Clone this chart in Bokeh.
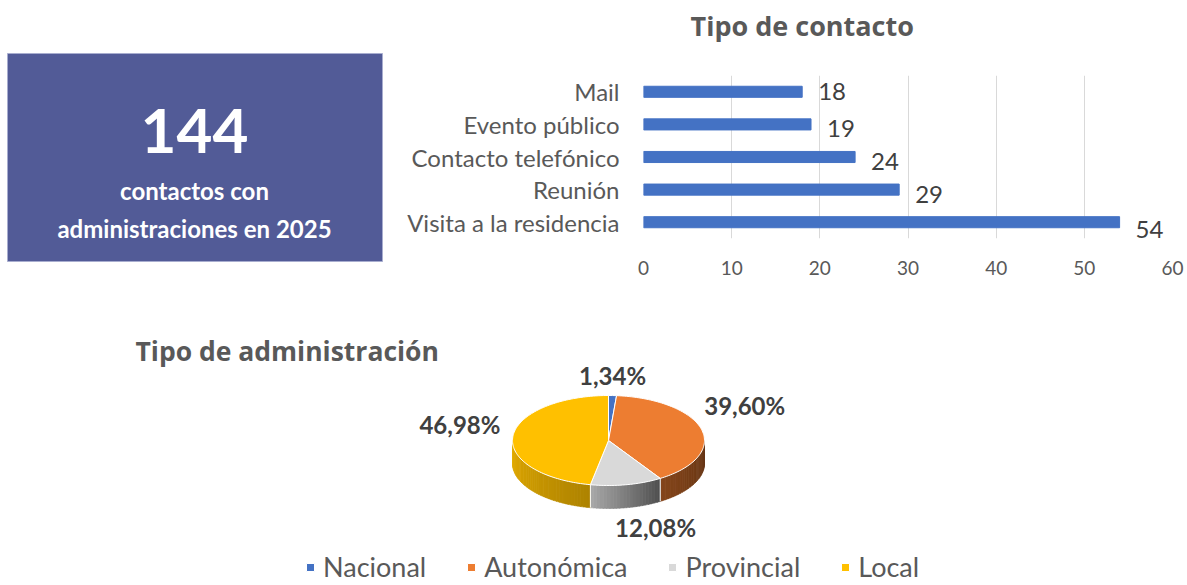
import numpy as np
from bokeh.plotting import figure
from bokeh.models import Range1d, FactorRange, FixedTicker, Legend, LegendItem
from bokeh.layouts import column, row
from bokeh.core.properties import value
from bokeh.embed import file_html
from bokeh.resources import INLINE

# ---------------- data ----------------
total_contacts = 144
box_caption = ["contactos con", "administraciones en 2025"]

contact_title = "Tipo de contacto"
contact_types = ["Visita a la residencia", "Reunión", "Contacto telefónico", "Evento público", "Mail"]
contact_counts = [54, 29, 24, 19, 18]
x_ticks = [0, 10, 20, 30, 40, 50, 60]

admin_title = "Tipo de administración"
admin_types = ["Nacional", "Autonómica", "Provincial", "Local"]
admin_pcts = [1.34, 39.60, 12.08, 46.98]
admin_labels = ["1,34%", "39,60%", "12,08%", "46,98%"]

# ---------------- styles ----------------
admin_colors = ["#4472C4", "#ED7D31", "#D9D9D9", "#FFC000"]
side_shade = [(0.5, 0.5), (0.42, 0.56), (0.36, 0.78), (0.68, 0.9)]  # (right, left)
label_nudge = [(0, -20), (43, -24), (29, 20), (-53, -12)]
value_label_dy = [7, 5, 4, 4, 0]
TXT = "#595959"
DARK = "#404040"
FONT = value("Lato")
TFONT = value("Open Sans")


def blank(fig):
    fig.frame_align = False
    fig.axis.visible = False
    fig.grid.visible = False
    fig.outline_line_color = None


# ---------------- KPI box ----------------
pk = figure(width=400, height=300, x_range=Range1d(0, 400), y_range=Range1d(300, 0),
            output_backend="svg", toolbar_location=None, min_border=0)
blank(pk)
pk.quad(left=7, right=382, top=53, bottom=261, fill_color="#525B97", line_color="#A8ADCF", line_width=1)
pk.text(x=[194], y=[130], text=[str(total_contacts)], text_font=FONT, text_font_style="bold",
        text_font_size="62px", text_color="white", text_align="center", text_baseline="middle")
pk.text(x=[194, 194], y=[190, 228], text=box_caption, text_font=FONT, text_font_style="bold",
        text_font_size="24px", text_color="white", text_align="center", text_baseline="middle")

# ---------------- bar chart title ----------------
pt = figure(width=787, height=50, x_range=Range1d(0, 787), y_range=Range1d(50, 0),
            output_backend="svg", toolbar_location=None, min_border=0)
blank(pt)
pt.text(x=[290], y=[25], text=[contact_title], text_font=TFONT, text_font_style="bold",
        text_font_size="27px", text_color=TXT, text_align="left", text_baseline="middle")

# ---------------- bar chart ----------------
pb = figure(width=787, height=250, y_range=FactorRange(factors=contact_types), x_range=Range1d(0, 60),
            output_backend="svg", toolbar_location=None,
            min_border_left=243, min_border_right=15, min_border_top=25, min_border_bottom=62)
pb.frame_align = False
pb.hbar(y=contact_types, right=contact_counts, height=0.34, color="#4472C4")
pb.text(x=contact_counts, y=contact_types, text=[str(v) for v in contact_counts],
        x_offset=16, y_offset=value_label_dy, text_font=FONT, text_font_size="24px",
        text_color=DARK, text_align="left", text_baseline="middle")
pb.xaxis.ticker = FixedTicker(ticks=x_ticks)
for ax in (pb.xaxis, pb.yaxis):
    ax.axis_line_color = None
    ax.major_tick_line_color = None
    ax.minor_tick_line_color = None
    ax.major_label_text_color = TXT
    ax.major_label_text_font = "Lato"
pb.xaxis.major_label_text_font_size = "19px"
pb.xaxis.major_label_standoff = 16
pb.yaxis.major_label_text_font_size = "24px"
pb.yaxis.major_label_standoff = 18
pb.xgrid.grid_line_color = "#D9D9D9"
pb.ygrid.grid_line_color = None
pb.outline_line_color = None

# ---------------- pie chart ----------------
pp = figure(width=1187, height=285, x_range=Range1d(0, 1187), y_range=Range1d(585, 300),
            output_backend="svg", toolbar_location=None, min_border=0)
blank(pp)

CX, CY, RX, RY, DEPTH = 608, 440, 96, 45, 23


def ell(th, dy=0.0):
    th = np.asarray(th, dtype=float)
    return CX + RX * np.sin(th), CY - RY * np.cos(th) + dy


def shade(hexcol, f):
    h = hexcol.lstrip("#")
    r, g, b = (int(h[i:i + 2], 16) for i in (0, 2, 4))
    return "#%02x%02x%02x" % (int(r * f), int(g * f), int(b * f))


fr = np.array(admin_pcts) / np.sum(admin_pcts)
ends = np.cumsum(fr) * 2 * np.pi
starts = np.concatenate([[0.0], ends[:-1]])

# side walls (front half only)
sx, sy, sc = [], [], []
for i in range(len(admin_pcts)):
    a = max(starts[i], np.pi / 2)
    b = min(ends[i], 3 * np.pi / 2)
    if a >= b:
        continue
    n = max(2, int(np.ceil(np.degrees(b - a) / 2.0)))
    edges = np.linspace(a, b, n + 1)
    fR, fL = side_shade[i]
    for k in range(n):
        t = np.linspace(edges[k], edges[k + 1] + 0.004, 4)
        x1, y1 = ell(t)
        x2, y2 = ell(t[::-1], DEPTH)
        sx.append(list(x1) + list(x2))
        sy.append(list(y1) + list(y2))
        f = fR + (fL - fR) * (k + 0.5) / n
        sc.append(shade(admin_colors[i], f))
pp.patches(xs=sx, ys=sy, fill_color=sc, line_color=sc, line_width=0.6)

# white separators on the side
for th in starts:
    if np.pi / 2 < th < 3 * np.pi / 2:
        x0, y0 = ell(th)
        x1, y1 = ell(th, DEPTH)
        pp.segment(x0=[float(x0)], y0=[float(y0)], x1=[float(x1)], y1=[float(y1)],
                   line_color="white", line_width=1)

# top faces
items = []
for i in range(len(admin_pcts)):
    n = max(3, int(np.degrees(ends[i] - starts[i]) / 1.5))
    t = np.linspace(starts[i], ends[i], n)
    x, y = ell(t)
    r = pp.patch(x=[CX] + list(x) + [CX], y=[CY] + list(y) + [CY], fill_color=admin_colors[i],
                 line_color="white", line_width=1)
    items.append(LegendItem(label=admin_types[i], renderers=[r]))

# data labels
mids = (starts + ends) / 2
for i in range(len(admin_pcts)):
    x, y = ell(mids[i], DEPTH if np.cos(mids[i]) < 0 else 0)
    pp.text(x=[float(x) + label_nudge[i][0]], y=[float(y) + label_nudge[i][1]], text=[admin_labels[i]],
            text_font=FONT, text_font_style="bold", text_font_size="24px", text_color=DARK,
            text_align="center", text_baseline="middle")

pp.text(x=[135], y=[350], text=[admin_title], text_font=TFONT, text_font_style="bold",
        text_font_size="26.5px", text_color=TXT, text_align="left", text_baseline="middle")

legend = Legend(items=items, orientation="horizontal", location=(305, 2),
                glyph_width=10, glyph_height=10, label_standoff=8, spacing=40,
                padding=0, margin=0, border_line_alpha=0, background_fill_alpha=0,
                label_text_font="Lato", label_text_font_size="27px", label_text_color=TXT)
pp.add_layout(legend)

layout = column(row(pk, column(pt, pb)), pp)
open("out.html", "w").write(file_html(layout, INLINE))
